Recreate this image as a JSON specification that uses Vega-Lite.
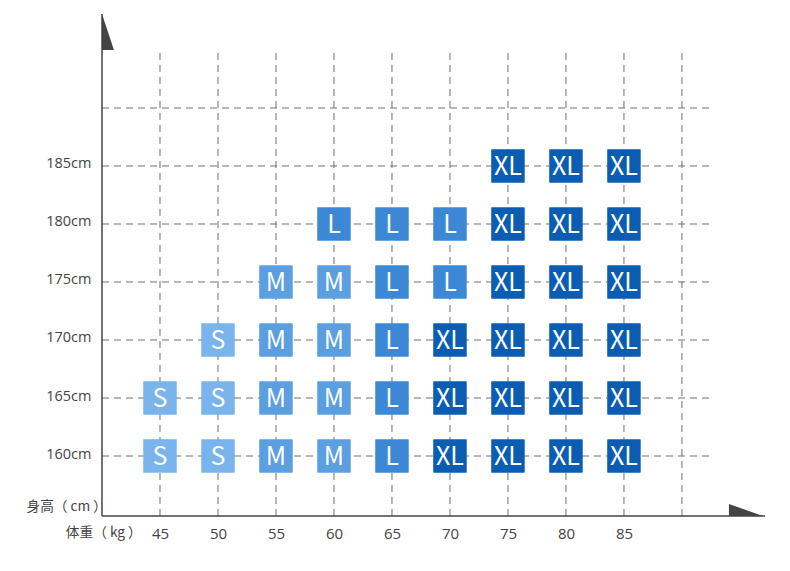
{
  "$schema": "https://vega.github.io/schema/vega-lite/v6.json",
  "width": 663,
  "height": 501,
  "autosize": {"type": "none"},
  "padding": {"left": 102, "top": 15, "right": 25, "bottom": 55},
  "background": "white",
  "config": {
    "view": {"stroke": null},
    "axis": {"domain": false, "ticks": false, "grid": false, "titleOpacity": 0, "labelColor": "#444", "labelFont": "Open Sans", "labelFontWeight": "normal"},
    "axisX": {"labelPadding": 10, "labelFontSize": 15},
    "axisY": {"labelPadding": 11, "labelFontSize": 14.5, "labelOffset": -2}
  },
  "datasets": {
    "vgrid": [{"x": 45}, {"x": 50}, {"x": 55}, {"x": 60}, {"x": 65}, {"x": 70}, {"x": 75}, {"x": 80}, {"x": 85}, {"x": 90}],
    "hgrid": [{"y": 160}, {"y": 165}, {"y": 170}, {"y": 175}, {"y": 180}, {"y": 185}, {"y": 190}],
    "cells": [
      {"x": 45, "y": 160, "s": "S"}, {"x": 50, "y": 160, "s": "S"}, {"x": 55, "y": 160, "s": "M"}, {"x": 60, "y": 160, "s": "M"}, {"x": 65, "y": 160, "s": "L"}, {"x": 70, "y": 160, "s": "XL"}, {"x": 75, "y": 160, "s": "XL"}, {"x": 80, "y": 160, "s": "XL"}, {"x": 85, "y": 160, "s": "XL"},
      {"x": 45, "y": 165, "s": "S"}, {"x": 50, "y": 165, "s": "S"}, {"x": 55, "y": 165, "s": "M"}, {"x": 60, "y": 165, "s": "M"}, {"x": 65, "y": 165, "s": "L"}, {"x": 70, "y": 165, "s": "XL"}, {"x": 75, "y": 165, "s": "XL"}, {"x": 80, "y": 165, "s": "XL"}, {"x": 85, "y": 165, "s": "XL"},
      {"x": 50, "y": 170, "s": "S"}, {"x": 55, "y": 170, "s": "M"}, {"x": 60, "y": 170, "s": "M"}, {"x": 65, "y": 170, "s": "L"}, {"x": 70, "y": 170, "s": "XL"}, {"x": 75, "y": 170, "s": "XL"}, {"x": 80, "y": 170, "s": "XL"}, {"x": 85, "y": 170, "s": "XL"},
      {"x": 55, "y": 175, "s": "M"}, {"x": 60, "y": 175, "s": "M"}, {"x": 65, "y": 175, "s": "L"}, {"x": 70, "y": 175, "s": "L"}, {"x": 75, "y": 175, "s": "XL"}, {"x": 80, "y": 175, "s": "XL"}, {"x": 85, "y": 175, "s": "XL"},
      {"x": 60, "y": 180, "s": "L"}, {"x": 65, "y": 180, "s": "L"}, {"x": 70, "y": 180, "s": "L"}, {"x": 75, "y": 180, "s": "XL"}, {"x": 80, "y": 180, "s": "XL"}, {"x": 85, "y": 180, "s": "XL"},
      {"x": 75, "y": 185, "s": "XL"}, {"x": 80, "y": 185, "s": "XL"}, {"x": 85, "y": 185, "s": "XL"}
    ],
    "axisx": [{"x": 40, "x2": 97.16}],
    "axisy": [{"y": 154.8276, "y2": 198.1}],
    "arrowTop": [{"y": 198.1, "x": 40, "x2": 40}, {"y": 195.0, "x": 41.03, "x2": 40}],
    "arrowRight": [{"x": 94.05, "y": 155.86, "y2": 154.8276}, {"x": 96.98, "y": 154.8276, "y2": 154.8276}],
    "titles": [{"t": "身高（ cm ）", "x": 40, "y": 155.6}, {"t": "体重（ kg ）", "x": 43.0, "y": 153.36}]
  },
  "layer": [
    {
      "data": {"name": "cells"},
      "mark": {"type": "square", "filled": true, "opacity": 1, "size": 1089},
      "encoding": {
        "x": {"field": "x", "type": "quantitative", "scale": {"domain": [40, 97.16], "nice": false, "zero": false}, "axis": {"values": [45, 50, 55, 60, 65, 70, 75, 80, 85], "title": null}},
        "y": {"field": "y", "type": "quantitative", "scale": {"domain": [154.8276, 198.0172], "nice": false, "zero": false}, "axis": {"values": [160, 165, 170, 175, 180, 185], "labelExpr": "datum.value + 'cm'", "title": null}},
        "color": {"field": "s", "type": "nominal", "scale": {"domain": ["S", "M", "L", "XL"], "range": ["#7ab4ec", "#5b9fe0", "#3c88d6", "#0b5db3"]}, "legend": null}
      }
    },
    {
      "data": {"name": "vgrid"},
      "mark": {"type": "rule", "color": "#6f6f6f", "strokeWidth": 1, "strokeDash": [7, 5]},
      "encoding": {
        "x": {"field": "x", "type": "quantitative"},
        "y": {"datum": 154.8276, "type": "quantitative"},
        "y2": {"datum": 194.83}
      }
    },
    {
      "data": {"name": "hgrid"},
      "mark": {"type": "rule", "color": "#6f6f6f", "strokeWidth": 1, "strokeDash": [7, 5]},
      "encoding": {
        "y": {"field": "y", "type": "quantitative"},
        "x": {"datum": 40, "type": "quantitative"},
        "x2": {"datum": 92.6}
      }
    },
    {
      "data": {"name": "cells"},
      "mark": {"type": "square", "filled": true, "opacity": 1, "size": 1089},
      "encoding": {
        "x": {"field": "x", "type": "quantitative"},
        "y": {"field": "y", "type": "quantitative"},
        "color": {"field": "s", "type": "nominal", "legend": null}
      }
    },
    {
      "data": {"name": "axisx"},
      "mark": {"type": "rule", "color": "#444", "strokeWidth": 1.5},
      "encoding": {
        "x": {"field": "x", "type": "quantitative"},
        "x2": {"field": "x2"},
        "y": {"datum": 154.8276, "type": "quantitative"}
      }
    },
    {
      "data": {"name": "axisy"},
      "mark": {"type": "rule", "color": "#444", "strokeWidth": 1.5, "clip": false},
      "encoding": {
        "y": {"field": "y", "type": "quantitative"},
        "y2": {"field": "y2"},
        "x": {"datum": 40, "type": "quantitative"}
      }
    },
    {
      "data": {"name": "arrowTop"},
      "mark": {"type": "area", "orient": "horizontal", "color": "#444", "clip": false},
      "encoding": {
        "y": {"field": "y", "type": "quantitative"},
        "x": {"field": "x", "type": "quantitative"},
        "x2": {"field": "x2"}
      }
    },
    {
      "data": {"name": "arrowRight"},
      "mark": {"type": "area", "orient": "vertical", "color": "#444", "clip": false},
      "encoding": {
        "x": {"field": "x", "type": "quantitative"},
        "y": {"field": "y", "type": "quantitative"},
        "y2": {"field": "y2"}
      }
    },
    {
      "data": {"name": "cells"},
      "mark": {"type": "text", "color": "white", "fontSize": 25, "font": "Noto Sans CJK SC", "baseline": "middle", "align": "center", "dy": 1},
      "encoding": {
        "x": {"field": "x", "type": "quantitative"},
        "y": {"field": "y", "type": "quantitative"},
        "text": {"field": "s"}
      }
    },
    {
      "data": {"name": "titles"},
      "mark": {"type": "text", "color": "#444", "fontSize": 13.7, "font": "Noto Sans CJK SC", "baseline": "middle", "align": "right", "dx": 5, "clip": false},
      "encoding": {
        "x": {"field": "x", "type": "quantitative"},
        "y": {"field": "y", "type": "quantitative"},
        "text": {"field": "t"}
      }
    }
  ]
}
